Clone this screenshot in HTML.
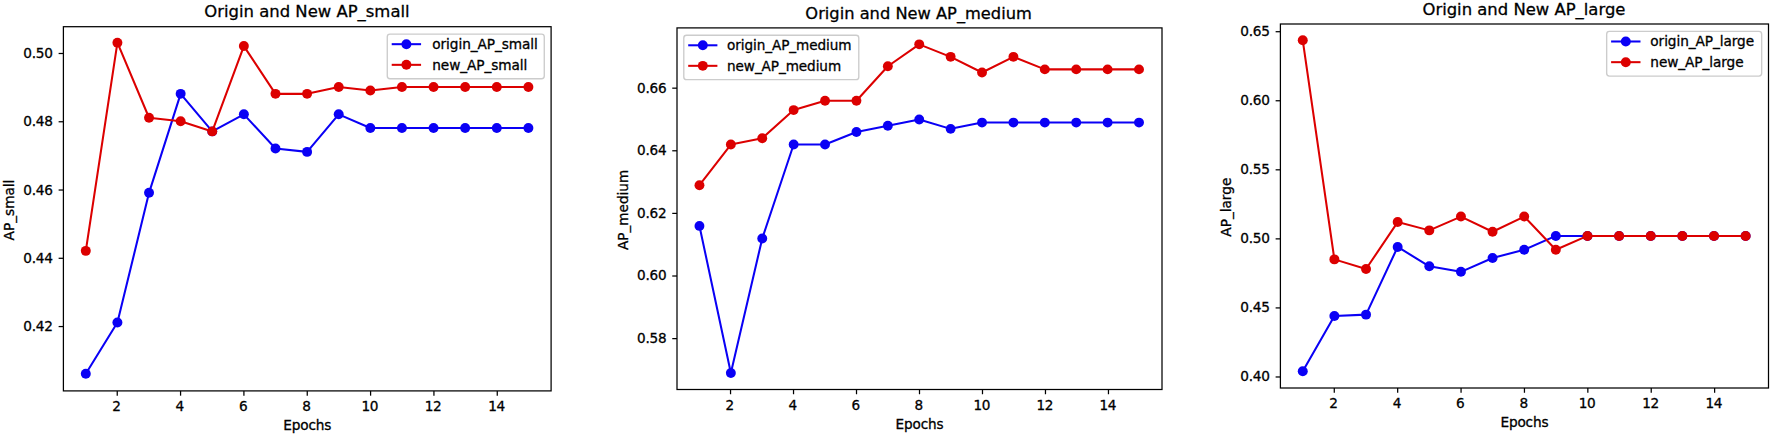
<!DOCTYPE html>
<html><head><meta charset="utf-8"><title>AP charts</title>
<style>
html,body{margin:0;padding:0;background:#fff;}
body{width:1772px;height:436px;overflow:hidden;}
svg{display:block;font-family:"DejaVu Sans", "Liberation Sans", sans-serif;fill:#000;}
text{stroke:#000;stroke-width:0.3px;}
</style></head>
<body>
<svg width="1772" height="436" viewBox="0 0 1772 436">
<rect x="0" y="0" width="1772" height="436" fill="#ffffff"/>
<g>
<text x="306.95" y="17.31" font-size="16.45" text-anchor="middle">Origin and New AP_small</text>
<polyline points="85.80,373.75 117.41,322.55 149.03,192.84 180.64,93.85 212.26,131.40 243.87,114.33 275.49,148.47 307.10,151.88 338.71,114.33 370.33,127.99 401.94,127.99 433.56,127.99 465.17,127.99 496.79,127.99 528.40,127.99" fill="none" stroke="#0a00f5" stroke-width="2.05" stroke-linejoin="round"/>
<circle cx="85.80" cy="373.75" r="4.97" fill="#0a00f5"/>
<circle cx="117.41" cy="322.55" r="4.97" fill="#0a00f5"/>
<circle cx="149.03" cy="192.84" r="4.97" fill="#0a00f5"/>
<circle cx="180.64" cy="93.85" r="4.97" fill="#0a00f5"/>
<circle cx="212.26" cy="131.40" r="4.97" fill="#0a00f5"/>
<circle cx="243.87" cy="114.33" r="4.97" fill="#0a00f5"/>
<circle cx="275.49" cy="148.47" r="4.97" fill="#0a00f5"/>
<circle cx="307.10" cy="151.88" r="4.97" fill="#0a00f5"/>
<circle cx="338.71" cy="114.33" r="4.97" fill="#0a00f5"/>
<circle cx="370.33" cy="127.99" r="4.97" fill="#0a00f5"/>
<circle cx="401.94" cy="127.99" r="4.97" fill="#0a00f5"/>
<circle cx="433.56" cy="127.99" r="4.97" fill="#0a00f5"/>
<circle cx="465.17" cy="127.99" r="4.97" fill="#0a00f5"/>
<circle cx="496.79" cy="127.99" r="4.97" fill="#0a00f5"/>
<circle cx="528.40" cy="127.99" r="4.97" fill="#0a00f5"/>
<polyline points="85.80,250.87 117.41,42.65 149.03,117.75 180.64,121.16 212.26,131.40 243.87,46.07 275.49,93.85 307.10,93.85 338.71,87.03 370.33,90.44 401.94,87.03 433.56,87.03 465.17,87.03 496.79,87.03 528.40,87.03" fill="none" stroke="#dc0000" stroke-width="2.05" stroke-linejoin="round"/>
<circle cx="85.80" cy="250.87" r="4.97" fill="#dc0000"/>
<circle cx="117.41" cy="42.65" r="4.97" fill="#dc0000"/>
<circle cx="149.03" cy="117.75" r="4.97" fill="#dc0000"/>
<circle cx="180.64" cy="121.16" r="4.97" fill="#dc0000"/>
<circle cx="212.26" cy="131.40" r="4.97" fill="#dc0000"/>
<circle cx="243.87" cy="46.07" r="4.97" fill="#dc0000"/>
<circle cx="275.49" cy="93.85" r="4.97" fill="#dc0000"/>
<circle cx="307.10" cy="93.85" r="4.97" fill="#dc0000"/>
<circle cx="338.71" cy="87.03" r="4.97" fill="#dc0000"/>
<circle cx="370.33" cy="90.44" r="4.97" fill="#dc0000"/>
<circle cx="401.94" cy="87.03" r="4.97" fill="#dc0000"/>
<circle cx="433.56" cy="87.03" r="4.97" fill="#dc0000"/>
<circle cx="465.17" cy="87.03" r="4.97" fill="#dc0000"/>
<circle cx="496.79" cy="87.03" r="4.97" fill="#dc0000"/>
<circle cx="528.40" cy="87.03" r="4.97" fill="#dc0000"/>
<rect x="63.40" y="26.70" width="487.70" height="364.20" fill="none" stroke="#000000" stroke-width="1.25"/>
<line x1="117.24" y1="390.90" x2="117.24" y2="395.68" stroke="#000000" stroke-width="1.25"/>
<text x="116.44" y="411.14" font-size="13.66" text-anchor="middle" letter-spacing="-0.4">2</text>
<line x1="180.57" y1="390.90" x2="180.57" y2="395.68" stroke="#000000" stroke-width="1.25"/>
<text x="179.77" y="411.14" font-size="13.66" text-anchor="middle" letter-spacing="-0.4">4</text>
<line x1="243.91" y1="390.90" x2="243.91" y2="395.68" stroke="#000000" stroke-width="1.25"/>
<text x="243.11" y="411.14" font-size="13.66" text-anchor="middle" letter-spacing="-0.4">6</text>
<line x1="307.25" y1="390.90" x2="307.25" y2="395.68" stroke="#000000" stroke-width="1.25"/>
<text x="306.45" y="411.14" font-size="13.66" text-anchor="middle" letter-spacing="-0.4">8</text>
<line x1="370.59" y1="390.90" x2="370.59" y2="395.68" stroke="#000000" stroke-width="1.25"/>
<text x="369.79" y="411.14" font-size="13.66" text-anchor="middle" letter-spacing="-0.4">10</text>
<line x1="433.93" y1="390.90" x2="433.93" y2="395.68" stroke="#000000" stroke-width="1.25"/>
<text x="433.13" y="411.14" font-size="13.66" text-anchor="middle" letter-spacing="-0.4">12</text>
<line x1="497.26" y1="390.90" x2="497.26" y2="395.68" stroke="#000000" stroke-width="1.25"/>
<text x="496.46" y="411.14" font-size="13.66" text-anchor="middle" letter-spacing="-0.4">14</text>
<line x1="58.62" y1="326.56" x2="63.40" y2="326.56" stroke="#000000" stroke-width="1.25"/>
<text x="52.64" y="331.05" font-size="13.66" text-anchor="end" letter-spacing="-0.25">0.42</text>
<line x1="58.62" y1="258.29" x2="63.40" y2="258.29" stroke="#000000" stroke-width="1.25"/>
<text x="52.64" y="262.78" font-size="13.66" text-anchor="end" letter-spacing="-0.25">0.44</text>
<line x1="58.62" y1="190.03" x2="63.40" y2="190.03" stroke="#000000" stroke-width="1.25"/>
<text x="52.64" y="194.52" font-size="13.66" text-anchor="end" letter-spacing="-0.25">0.46</text>
<line x1="58.62" y1="121.76" x2="63.40" y2="121.76" stroke="#000000" stroke-width="1.25"/>
<text x="52.64" y="126.25" font-size="13.66" text-anchor="end" letter-spacing="-0.25">0.48</text>
<line x1="58.62" y1="53.49" x2="63.40" y2="53.49" stroke="#000000" stroke-width="1.25"/>
<text x="52.64" y="57.98" font-size="13.66" text-anchor="end" letter-spacing="-0.25">0.50</text>
<text x="307.25" y="429.90" font-size="13.66" text-anchor="middle" letter-spacing="-0.15">Epochs</text>
<text transform="translate(14.37,210.00) rotate(-90)" font-size="13.66" text-anchor="middle">AP_small</text>
<rect x="387.27" y="34.13" width="157.00" height="44.61" rx="2.73" fill="#ffffff" fill-opacity="0.8" stroke="#cccccc" stroke-width="1.37"/>
<line x1="392.73" y1="44.18" x2="420.05" y2="44.18" stroke="#0a00f5" stroke-width="2.05" stroke-linecap="square"/>
<circle cx="406.39" cy="44.18" r="4.97" fill="#0a00f5"/>
<text x="432.27" y="49.10" font-size="13.66" letter-spacing="-0.07">origin_AP_small</text>
<line x1="392.73" y1="64.84" x2="420.05" y2="64.84" stroke="#dc0000" stroke-width="2.05" stroke-linecap="square"/>
<circle cx="406.39" cy="64.84" r="4.97" fill="#dc0000"/>
<text x="432.27" y="69.75" font-size="13.66" letter-spacing="-0.07">new_AP_small</text>
</g>
<g>
<text x="918.60" y="18.55" font-size="16.26" text-anchor="middle">Origin and New AP_medium</text>
<polyline points="699.46,225.92 730.86,373.06 762.25,238.44 793.65,144.52 825.04,144.52 856.44,132.00 887.83,125.74 919.23,119.47 950.63,128.87 982.02,122.60 1013.42,122.60 1044.81,122.60 1076.21,122.60 1107.60,122.60 1139.00,122.60" fill="none" stroke="#0a00f5" stroke-width="2.04" stroke-linejoin="round"/>
<circle cx="699.46" cy="225.92" r="4.94" fill="#0a00f5"/>
<circle cx="730.86" cy="373.06" r="4.94" fill="#0a00f5"/>
<circle cx="762.25" cy="238.44" r="4.94" fill="#0a00f5"/>
<circle cx="793.65" cy="144.52" r="4.94" fill="#0a00f5"/>
<circle cx="825.04" cy="144.52" r="4.94" fill="#0a00f5"/>
<circle cx="856.44" cy="132.00" r="4.94" fill="#0a00f5"/>
<circle cx="887.83" cy="125.74" r="4.94" fill="#0a00f5"/>
<circle cx="919.23" cy="119.47" r="4.94" fill="#0a00f5"/>
<circle cx="950.63" cy="128.87" r="4.94" fill="#0a00f5"/>
<circle cx="982.02" cy="122.60" r="4.94" fill="#0a00f5"/>
<circle cx="1013.42" cy="122.60" r="4.94" fill="#0a00f5"/>
<circle cx="1044.81" cy="122.60" r="4.94" fill="#0a00f5"/>
<circle cx="1076.21" cy="122.60" r="4.94" fill="#0a00f5"/>
<circle cx="1107.60" cy="122.60" r="4.94" fill="#0a00f5"/>
<circle cx="1139.00" cy="122.60" r="4.94" fill="#0a00f5"/>
<polyline points="699.46,185.22 730.86,144.52 762.25,138.26 793.65,110.08 825.04,100.69 856.44,100.69 887.83,66.25 919.23,44.34 950.63,56.86 982.02,72.51 1013.42,56.86 1044.81,69.38 1076.21,69.38 1107.60,69.38 1139.00,69.38" fill="none" stroke="#dc0000" stroke-width="2.04" stroke-linejoin="round"/>
<circle cx="699.46" cy="185.22" r="4.94" fill="#dc0000"/>
<circle cx="730.86" cy="144.52" r="4.94" fill="#dc0000"/>
<circle cx="762.25" cy="138.26" r="4.94" fill="#dc0000"/>
<circle cx="793.65" cy="110.08" r="4.94" fill="#dc0000"/>
<circle cx="825.04" cy="100.69" r="4.94" fill="#dc0000"/>
<circle cx="856.44" cy="100.69" r="4.94" fill="#dc0000"/>
<circle cx="887.83" cy="66.25" r="4.94" fill="#dc0000"/>
<circle cx="919.23" cy="44.34" r="4.94" fill="#dc0000"/>
<circle cx="950.63" cy="56.86" r="4.94" fill="#dc0000"/>
<circle cx="982.02" cy="72.51" r="4.94" fill="#dc0000"/>
<circle cx="1013.42" cy="56.86" r="4.94" fill="#dc0000"/>
<circle cx="1044.81" cy="69.38" r="4.94" fill="#dc0000"/>
<circle cx="1076.21" cy="69.38" r="4.94" fill="#dc0000"/>
<circle cx="1107.60" cy="69.38" r="4.94" fill="#dc0000"/>
<circle cx="1139.00" cy="69.38" r="4.94" fill="#dc0000"/>
<rect x="677.00" y="27.90" width="485.00" height="361.60" fill="none" stroke="#000000" stroke-width="1.25"/>
<line x1="730.54" y1="389.50" x2="730.54" y2="394.25" stroke="#000000" stroke-width="1.25"/>
<text x="729.74" y="409.63" font-size="13.58" text-anchor="middle" letter-spacing="-0.4">2</text>
<line x1="793.53" y1="389.50" x2="793.53" y2="394.25" stroke="#000000" stroke-width="1.25"/>
<text x="792.73" y="409.63" font-size="13.58" text-anchor="middle" letter-spacing="-0.4">4</text>
<line x1="856.51" y1="389.50" x2="856.51" y2="394.25" stroke="#000000" stroke-width="1.25"/>
<text x="855.71" y="409.63" font-size="13.58" text-anchor="middle" letter-spacing="-0.4">6</text>
<line x1="919.50" y1="389.50" x2="919.50" y2="394.25" stroke="#000000" stroke-width="1.25"/>
<text x="918.70" y="409.63" font-size="13.58" text-anchor="middle" letter-spacing="-0.4">8</text>
<line x1="982.49" y1="389.50" x2="982.49" y2="394.25" stroke="#000000" stroke-width="1.25"/>
<text x="981.69" y="409.63" font-size="13.58" text-anchor="middle" letter-spacing="-0.4">10</text>
<line x1="1045.47" y1="389.50" x2="1045.47" y2="394.25" stroke="#000000" stroke-width="1.25"/>
<text x="1044.67" y="409.63" font-size="13.58" text-anchor="middle" letter-spacing="-0.4">12</text>
<line x1="1108.46" y1="389.50" x2="1108.46" y2="394.25" stroke="#000000" stroke-width="1.25"/>
<text x="1107.66" y="409.63" font-size="13.58" text-anchor="middle" letter-spacing="-0.4">14</text>
<line x1="672.25" y1="338.63" x2="677.00" y2="338.63" stroke="#000000" stroke-width="1.25"/>
<text x="666.29" y="343.09" font-size="13.58" text-anchor="end" letter-spacing="-0.25">0.58</text>
<line x1="672.25" y1="276.01" x2="677.00" y2="276.01" stroke="#000000" stroke-width="1.25"/>
<text x="666.29" y="280.47" font-size="13.58" text-anchor="end" letter-spacing="-0.25">0.60</text>
<line x1="672.25" y1="213.40" x2="677.00" y2="213.40" stroke="#000000" stroke-width="1.25"/>
<text x="666.29" y="217.86" font-size="13.58" text-anchor="end" letter-spacing="-0.25">0.62</text>
<line x1="672.25" y1="150.78" x2="677.00" y2="150.78" stroke="#000000" stroke-width="1.25"/>
<text x="666.29" y="155.24" font-size="13.58" text-anchor="end" letter-spacing="-0.25">0.64</text>
<line x1="672.25" y1="88.17" x2="677.00" y2="88.17" stroke="#000000" stroke-width="1.25"/>
<text x="666.29" y="92.63" font-size="13.58" text-anchor="end" letter-spacing="-0.25">0.66</text>
<text x="919.50" y="428.50" font-size="13.58" text-anchor="middle" letter-spacing="-0.15">Epochs</text>
<text transform="translate(628.24,209.90) rotate(-90)" font-size="13.58" text-anchor="middle">AP_medium</text>
<rect x="683.79" y="35.29" width="175.00" height="44.36" rx="2.72" fill="#ffffff" fill-opacity="0.8" stroke="#cccccc" stroke-width="1.36"/>
<line x1="689.22" y1="45.29" x2="716.38" y2="45.29" stroke="#0a00f5" stroke-width="2.04" stroke-linecap="square"/>
<circle cx="702.80" cy="45.29" r="4.94" fill="#0a00f5"/>
<text x="727.05" y="50.18" font-size="13.58" letter-spacing="-0.07">origin_AP_medium</text>
<line x1="689.22" y1="65.83" x2="716.38" y2="65.83" stroke="#dc0000" stroke-width="2.04" stroke-linecap="square"/>
<circle cx="702.80" cy="65.83" r="4.94" fill="#dc0000"/>
<text x="727.05" y="70.72" font-size="13.58" letter-spacing="-0.07">new_AP_medium</text>
</g>
<g>
<text x="1523.95" y="14.60" font-size="16.43" text-anchor="middle">Origin and New AP_large</text>
<polyline points="1302.76,371.25 1334.39,316.01 1366.03,314.63 1397.66,246.96 1429.29,266.29 1460.93,271.82 1492.56,258.01 1524.20,249.72 1555.83,235.91 1587.46,235.91 1619.10,235.91 1650.73,235.91 1682.36,235.91 1714.00,235.91 1745.63,235.91" fill="none" stroke="#0a00f5" stroke-width="2.05" stroke-linejoin="round"/>
<circle cx="1302.76" cy="371.25" r="4.98" fill="#0a00f5"/>
<circle cx="1334.39" cy="316.01" r="4.98" fill="#0a00f5"/>
<circle cx="1366.03" cy="314.63" r="4.98" fill="#0a00f5"/>
<circle cx="1397.66" cy="246.96" r="4.98" fill="#0a00f5"/>
<circle cx="1429.29" cy="266.29" r="4.98" fill="#0a00f5"/>
<circle cx="1460.93" cy="271.82" r="4.98" fill="#0a00f5"/>
<circle cx="1492.56" cy="258.01" r="4.98" fill="#0a00f5"/>
<circle cx="1524.20" cy="249.72" r="4.98" fill="#0a00f5"/>
<circle cx="1555.83" cy="235.91" r="4.98" fill="#0a00f5"/>
<circle cx="1587.46" cy="235.91" r="4.98" fill="#0a00f5"/>
<circle cx="1619.10" cy="235.91" r="4.98" fill="#0a00f5"/>
<circle cx="1650.73" cy="235.91" r="4.98" fill="#0a00f5"/>
<circle cx="1682.36" cy="235.91" r="4.98" fill="#0a00f5"/>
<circle cx="1714.00" cy="235.91" r="4.98" fill="#0a00f5"/>
<circle cx="1745.63" cy="235.91" r="4.98" fill="#0a00f5"/>
<polyline points="1302.76,40.35 1334.39,259.39 1366.03,269.05 1397.66,222.10 1429.29,230.38 1460.93,216.57 1492.56,231.76 1524.20,216.57 1555.83,249.72 1587.46,235.91 1619.10,235.91 1650.73,235.91 1682.36,235.91 1714.00,235.91 1745.63,235.91" fill="none" stroke="#dc0000" stroke-width="2.05" stroke-linejoin="round"/>
<circle cx="1302.76" cy="40.35" r="4.98" fill="#dc0000"/>
<circle cx="1334.39" cy="259.39" r="4.98" fill="#dc0000"/>
<circle cx="1366.03" cy="269.05" r="4.98" fill="#dc0000"/>
<circle cx="1397.66" cy="222.10" r="4.98" fill="#dc0000"/>
<circle cx="1429.29" cy="230.38" r="4.98" fill="#dc0000"/>
<circle cx="1460.93" cy="216.57" r="4.98" fill="#dc0000"/>
<circle cx="1492.56" cy="231.76" r="4.98" fill="#dc0000"/>
<circle cx="1524.20" cy="216.57" r="4.98" fill="#dc0000"/>
<circle cx="1555.83" cy="249.72" r="4.98" fill="#dc0000"/>
<circle cx="1587.46" cy="235.91" r="4.98" fill="#dc0000"/>
<circle cx="1619.10" cy="235.91" r="4.98" fill="#dc0000"/>
<circle cx="1650.73" cy="235.91" r="4.98" fill="#dc0000"/>
<circle cx="1682.36" cy="235.91" r="4.98" fill="#dc0000"/>
<circle cx="1714.00" cy="235.91" r="4.98" fill="#dc0000"/>
<circle cx="1745.63" cy="235.91" r="4.98" fill="#dc0000"/>
<rect x="1280.40" y="24.00" width="488.10" height="364.00" fill="none" stroke="#000000" stroke-width="1.25"/>
<line x1="1334.28" y1="388.00" x2="1334.28" y2="392.78" stroke="#000000" stroke-width="1.25"/>
<text x="1333.48" y="408.25" font-size="13.67" text-anchor="middle" letter-spacing="-0.4">2</text>
<line x1="1397.67" y1="388.00" x2="1397.67" y2="392.78" stroke="#000000" stroke-width="1.25"/>
<text x="1396.87" y="408.25" font-size="13.67" text-anchor="middle" letter-spacing="-0.4">4</text>
<line x1="1461.06" y1="388.00" x2="1461.06" y2="392.78" stroke="#000000" stroke-width="1.25"/>
<text x="1460.26" y="408.25" font-size="13.67" text-anchor="middle" letter-spacing="-0.4">6</text>
<line x1="1524.45" y1="388.00" x2="1524.45" y2="392.78" stroke="#000000" stroke-width="1.25"/>
<text x="1523.65" y="408.25" font-size="13.67" text-anchor="middle" letter-spacing="-0.4">8</text>
<line x1="1587.84" y1="388.00" x2="1587.84" y2="392.78" stroke="#000000" stroke-width="1.25"/>
<text x="1587.04" y="408.25" font-size="13.67" text-anchor="middle" letter-spacing="-0.4">10</text>
<line x1="1651.23" y1="388.00" x2="1651.23" y2="392.78" stroke="#000000" stroke-width="1.25"/>
<text x="1650.43" y="408.25" font-size="13.67" text-anchor="middle" letter-spacing="-0.4">12</text>
<line x1="1714.62" y1="388.00" x2="1714.62" y2="392.78" stroke="#000000" stroke-width="1.25"/>
<text x="1713.82" y="408.25" font-size="13.67" text-anchor="middle" letter-spacing="-0.4">14</text>
<line x1="1275.62" y1="376.98" x2="1280.40" y2="376.98" stroke="#000000" stroke-width="1.25"/>
<text x="1269.63" y="381.47" font-size="13.67" text-anchor="end" letter-spacing="-0.25">0.40</text>
<line x1="1275.62" y1="307.92" x2="1280.40" y2="307.92" stroke="#000000" stroke-width="1.25"/>
<text x="1269.63" y="312.42" font-size="13.67" text-anchor="end" letter-spacing="-0.25">0.45</text>
<line x1="1275.62" y1="238.87" x2="1280.40" y2="238.87" stroke="#000000" stroke-width="1.25"/>
<text x="1269.63" y="243.36" font-size="13.67" text-anchor="end" letter-spacing="-0.25">0.50</text>
<line x1="1275.62" y1="169.82" x2="1280.40" y2="169.82" stroke="#000000" stroke-width="1.25"/>
<text x="1269.63" y="174.31" font-size="13.67" text-anchor="end" letter-spacing="-0.25">0.55</text>
<line x1="1275.62" y1="100.76" x2="1280.40" y2="100.76" stroke="#000000" stroke-width="1.25"/>
<text x="1269.63" y="105.25" font-size="13.67" text-anchor="end" letter-spacing="-0.25">0.60</text>
<line x1="1275.62" y1="31.71" x2="1280.40" y2="31.71" stroke="#000000" stroke-width="1.25"/>
<text x="1269.63" y="36.20" font-size="13.67" text-anchor="end" letter-spacing="-0.25">0.65</text>
<text x="1524.45" y="427.00" font-size="13.67" text-anchor="middle" letter-spacing="-0.15">Epochs</text>
<text transform="translate(1231.33,207.20) rotate(-90)" font-size="13.67" text-anchor="middle">AP_large</text>
<rect x="1606.67" y="31.43" width="155.00" height="44.65" rx="2.73" fill="#ffffff" fill-opacity="0.8" stroke="#cccccc" stroke-width="1.37"/>
<line x1="1612.13" y1="41.49" x2="1639.47" y2="41.49" stroke="#0a00f5" stroke-width="2.05" stroke-linecap="square"/>
<circle cx="1625.80" cy="41.49" r="4.98" fill="#0a00f5"/>
<text x="1650.30" y="46.42" font-size="13.67" letter-spacing="-0.07">origin_AP_large</text>
<line x1="1612.13" y1="62.17" x2="1639.47" y2="62.17" stroke="#dc0000" stroke-width="2.05" stroke-linecap="square"/>
<circle cx="1625.80" cy="62.17" r="4.98" fill="#dc0000"/>
<text x="1650.30" y="67.09" font-size="13.67" letter-spacing="-0.07">new_AP_large</text>
</g>
</svg>
</body></html>
